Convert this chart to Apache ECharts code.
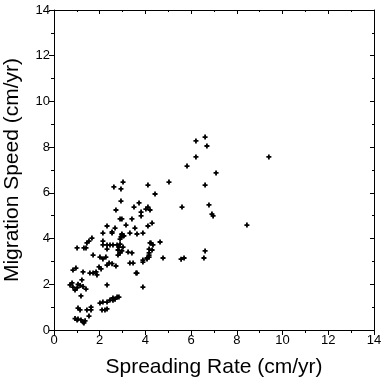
<!DOCTYPE html>
<html><head><meta charset="utf-8">
<script src="https://cdn.jsdelivr.net/npm/echarts@6/dist/echarts.min.js"></script>
<style>html,body{margin:0;padding:0;background:#fff}#c{width:384px;height:384px}</style>
</head><body><div id="c"></div>
<script>
const xTicks = [0,2,4,6,8,10,12,14];
const yTicks = [0,2,4,6,8,10,12,14];
const spreadingRate = [
9.4,8.44,6.61,6.21,6.69,6.21,5.82,7.09,4.11,5.03,6.61,4.42,5.6,6.78,6.91,6.96,
2.62,3.02,2.93,2.93,3.72,2.71,3.5,3.81,4.11,4.02,4.2,3.81,2.89,2.97,3.41,
2.32,3.15,4.11,4.29,2.14,2.54,2.97,3.02,3.32,3.63,3.89,1.66,1.53,1.44,4.2,4.33,
2.14,2.32,2.45,2.58,2.76,2.89,3.02,1.01,1.31,1.4,2.32,2.97,2.89,2.8,3.24,3.41,
1.71,2.01,2.14,2.27,2.41,2.32,3.32,3.46,3.89,4.07,4.16,4.16,3.59,3.63,
0.83,0.96,1.27,1.57,1.71,1.84,2.06,1.97,1.88,1.22,0.79,0.7,0.83,0.92,1.01,1.4,
2.32,3.89,1.18,2.01,2.14,2.32,2.45,2.58,2.76,2.84,2.1,2.23,2.32,1.05,1.14,1.44,1.62,
1.53,1.05,1.18,1.27,1.31,1.01,
3.54,2.67,2.54,2.97,2.93,3.06,2.89,
4.64,4.24,4.16,4.07,3.89,4.16,4.77,2.14,2.8,2.84,2.54,2.71,
5.56,5.69,6.56,6.61,4.29,1.05,1.27,1.14,0.92,1.36,1.62,2.58,2.67
];
const migrationSpeed = [
7.57,4.59,8.44,8.27,8.05,7.57,7.17,6.87,6.34,6.47,6.34,5.95,5.38,5.47,5.07,4.99,
6.26,6.47,6.17,5.64,5.56,5.25,5.38,5.16,5.38,5.29,5.25,4.99,4.86,4.86,4.86,
4.55,4.59,4.55,4.68,4.24,4.24,4.2,4.11,4.24,4.2,4.24,4.02,3.89,3.81,3.81,3.72,
3.72,3.72,3.72,3.72,3.72,3.76,3.63,3.59,3.59,3.59,3.54,3.46,3.37,3.28,3.41,3.37,
3.28,3.19,3.11,3.19,2.93,2.84,2.93,2.93,2.97,3.11,3.19,3.37,2.49,2.49,
2.62,2.71,2.54,2.49,2.49,2.54,2.67,2.76,2.41,2.19,2.06,1.97,1.88,1.75,1.84,1.79,
1.97,1.88,1.49,1.18,1.22,1.22,1.31,1.40,1.44,1.44,0.88,0.88,0.92,0.96,0.88,0.88,0.88,
0.61,0.48,0.44,0.35,0.31,0.44,
4.46,4.46,4.29,4.16,4.07,4.12,3.98,
3.85,3.81,3.54,3.15,3.06,3.28,3.15,3.89,3.5,3.63,2.9,2.8,
3.1,3.15,3.15,3.46,3.5,2.0,1.9,1.95,0.5,0.4,1.0,1.3,1.35
];
const data = spreadingRate.map((x,i)=>[x, migrationSpeed[i]]);
const plus = 'path://M1.6,0H3.4V1.6H5V3.4H3.4V5H1.6V3.4H0V1.6H1.6Z';
const font = 'Liberation Sans, Arial, Helvetica, sans-serif';
const chart = echarts.init(document.getElementById('c'), null, {renderer:'canvas'});
const baseAxis = (pos, name, nameGap) => ({
  type:'value', position: pos, min:0, max:14, interval:2,
  name: name, nameLocation:'middle', nameGap: nameGap,
  nameTextStyle:{fontFamily:font, fontSize:21, color:'#000'},
  axisLine:{show:true, onZero:false, lineStyle:{color:'#000', width:1}},
  axisTick:{show:true, inside:false, length:5, lineStyle:{color:'#000'}},
  minorTick:{show:true, splitNumber:2, length:3, lineStyle:{color:'#000'}},
  axisLabel:{show:true, fontFamily:font, fontSize:13, color:'#000', margin:4, formatter: v => String(v)},
  splitLine:{show:false}
});
const boxAxis = (pos) => ({
  type:'value', position: pos, min:0, max:14, interval:2,
  axisLine:{show:true, onZero:false, lineStyle:{color:'#000', width:1}},
  axisTick:{show:true, inside:true, length:4, lineStyle:{color:'#000'}},
  minorTick:{show:true, splitNumber:2, length:2, lineStyle:{color:'#000'}},
  axisLabel:{show:false}, splitLine:{show:false}
});
chart.setOption({
  animation:false,
  backgroundColor:'#fff',
  grid:{left:54, top:10, right:10, bottom:54, containLabel:false, outerBoundsMode:'none'},
  xAxis:[ baseAxis('bottom','Spreading Rate (cm/yr)',27), boxAxis('top') ],
  yAxis:[ baseAxis('left','Migration Speed (cm/yr)',31), boxAxis('right') ],
  series:[{
    type:'scatter', xAxisIndex:0, yAxisIndex:0, data:data,
    symbol: plus, symbolSize:5,
    itemStyle:{color:'#000', opacity:1}
  }]
});
</script></body></html>
